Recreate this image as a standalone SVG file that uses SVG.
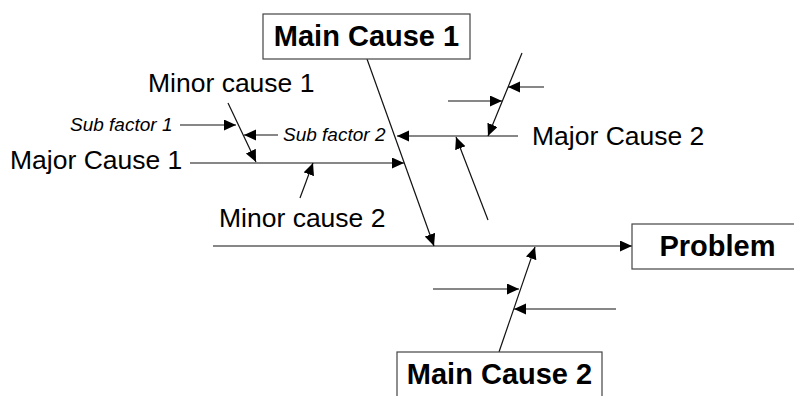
<svg xmlns="http://www.w3.org/2000/svg" width="794" height="396" viewBox="0 0 794 396">
  <style>
    .bone { stroke: #111; stroke-width: 1.2; fill: none; }
    .arrow { marker-end: url(#head); }
    .box { fill: #fff; stroke: #444; stroke-width: 1.2; }
    .title { font-family: "Liberation Sans", Arial, sans-serif; font-weight: bold; font-size: 29px; fill: #000; text-anchor: middle; }
    .label { font-family: "Liberation Sans", Arial, sans-serif; font-size: 26.5px; fill: #000; }
    .sub { font-family: "Liberation Sans", Arial, sans-serif; font-style: italic; font-size: 19px; fill: #000; }
  </style>
  <defs>
    <marker id="head" markerUnits="userSpaceOnUse" markerWidth="13" markerHeight="12" refX="12" refY="5.5" orient="auto">
      <path d="M0,0 L12,5.5 L0,11 z" fill="#000"/>
    </marker>
  </defs>
  <rect width="794" height="396" fill="#fff"/>

  <g id="connectors">
    <!-- spine -->
    <line class="bone arrow" x1="213" y1="246" x2="632" y2="246"/>
    <!-- main cause 1 bone -->
    <line class="bone arrow" x1="367" y1="59" x2="434" y2="246"/>
    <!-- main cause 2 bone -->
    <line class="bone arrow" x1="499" y1="352" x2="535" y2="247"/>
    <!-- major cause 1 branch -->
    <line class="bone arrow" x1="190" y1="163" x2="404" y2="163"/>
    <!-- minor cause 1 -->
    <line class="bone arrow" x1="228" y1="103" x2="256" y2="162"/>
    <!-- sub factor 1 -->
    <line class="bone arrow" x1="180" y1="125" x2="236" y2="125"/>
    <!-- sub factor 2 -->
    <line class="bone arrow" x1="278" y1="135" x2="244" y2="135"/>
    <!-- minor cause 2 -->
    <line class="bone arrow" x1="300" y1="198" x2="313" y2="163"/>
    <!-- major cause 2 branch -->
    <line class="bone arrow" x1="518" y1="136" x2="397" y2="136"/>
    <line class="bone arrow" x1="522" y1="53" x2="488" y2="136"/>
    <line class="bone arrow" x1="544" y1="87" x2="508" y2="87"/>
    <line class="bone arrow" x1="448" y1="101" x2="502" y2="101"/>
    <line class="bone arrow" x1="488" y1="220" x2="456" y2="137"/>
    <!-- main cause 2 side arrows -->
    <line class="bone arrow" x1="433" y1="289" x2="519" y2="289"/>
    <line class="bone arrow" x1="616" y1="309" x2="514" y2="309"/>
  </g>

  <g id="main-cause-1">
    <rect class="box" x="263" y="14" width="207" height="45"/>
    <text class="title" x="366.5" y="46">Main Cause 1</text>
  </g>
  <g id="main-cause-2">
    <rect class="box" x="397" y="352" width="205" height="60"/>
    <text class="title" x="499.5" y="384">Main Cause 2</text>
  </g>
  <g id="problem">
    <rect class="box" x="632" y="224" width="170" height="45"/>
    <text class="title" x="717.5" y="256">Problem</text>
  </g>
  <g id="major-cause-1">
    <text class="label" x="10" y="169">Major Cause 1</text>
  </g>
  <g id="major-cause-2">
    <text class="label" x="532" y="145">Major Cause 2</text>
  </g>
  <g id="minor-cause-1">
    <text class="label" x="148" y="92">Minor cause 1</text>
  </g>
  <g id="minor-cause-2">
    <text class="label" x="219" y="227">Minor cause 2</text>
  </g>
  <g id="sub-factor-1">
    <text class="sub" x="70" y="131">Sub factor 1</text>
  </g>
  <g id="sub-factor-2">
    <text class="sub" x="283" y="141">Sub factor 2</text>
  </g>
</svg>
